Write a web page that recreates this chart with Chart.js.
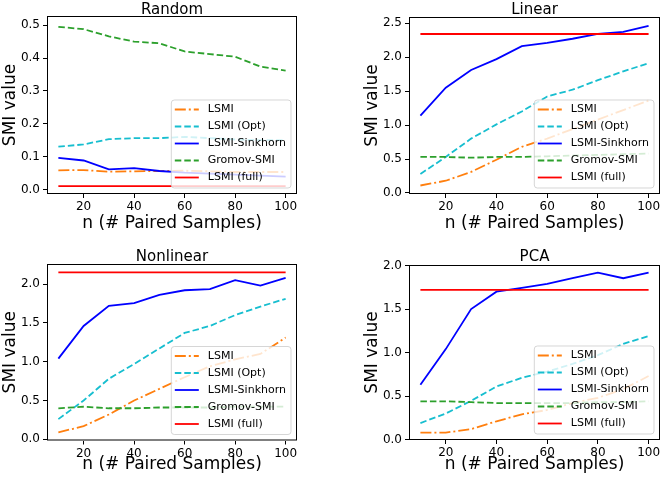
<!DOCTYPE html>
<html>
<head>
<meta charset="utf-8">
<script src="https://cdn.jsdelivr.net/npm/chart.js@4.4.1/dist/chart.umd.min.js"></script>
<style>
  html, body { margin: 0; padding: 0; background: #fff; }
  #figure { position: relative; width: 665px; height: 478px; }
  #figure canvas { position: absolute; }
</style>
</head>
<body>
<div id="figure">
  <canvas id="randomChart" width="332" height="238" style="left:0;top:0"></canvas>
  <canvas id="linearChart" width="333" height="238" style="left:332px;top:0"></canvas>
  <canvas id="nonlinearChart" width="332" height="240" style="left:0;top:238px"></canvas>
  <canvas id="pcaChart" width="333" height="240" style="left:332px;top:238px"></canvas>
</div>
<script>
// x values and legend names
const nSamples = [10, 20, 30, 40, 50, 60, 70, 80, 90, 100];
const seriesNames = ['LSMI', 'LSMI (Opt)', 'LSMI-Sinkhorn', 'Gromov-SMI', 'LSMI (full)'];
const xTicks = [20, 40, 60, 80, 100];
const xRange = [5.5, 104.5];

// Random
const randomLSMI = [0.058, 0.059, 0.054, 0.055, 0.056, 0.057, 0.055, 0.053, 0.053, 0.053];
const randomOpt = [0.130, 0.137, 0.153, 0.156, 0.156, 0.160, 0.156, 0.152, 0.150, 0.150];
const randomSinkhorn = [0.096, 0.088, 0.061, 0.065, 0.056, 0.051, 0.048, 0.045, 0.042, 0.039];
const randomGromov = [0.495, 0.488, 0.466, 0.450, 0.445, 0.420, 0.412, 0.404, 0.374, 0.362];
const randomFull = [0.010, 0.010, 0.010, 0.010, 0.010, 0.010, 0.010, 0.010, 0.010, 0.010];
const randomTicks = [0.0, 0.1, 0.2, 0.3, 0.4, 0.5];
const randomRange = [-0.014, 0.528];

// Linear
const linearLSMI = [0.11, 0.18, 0.31, 0.49, 0.68, 0.80, 0.94, 1.08, 1.22, 1.36];
const linearOpt = [0.28, 0.53, 0.80, 1.01, 1.20, 1.42, 1.52, 1.66, 1.79, 1.91];
const linearSinkhorn = [1.14, 1.55, 1.81, 1.97, 2.16, 2.21, 2.27, 2.34, 2.37, 2.46];
const linearGromov = [0.53, 0.53, 0.52, 0.53, 0.53, 0.54, 0.55, 0.56, 0.57, 0.58];
const linearFull = [2.34, 2.34, 2.34, 2.34, 2.34, 2.34, 2.34, 2.34, 2.34, 2.34];
const linearTicks = [0.0, 0.5, 1.0, 1.5, 2.0, 2.5];
const linearRange = [-0.015, 2.59];

// Nonlinear
const nonlinearLSMI = [0.09, 0.17, 0.32, 0.50, 0.65, 0.80, 0.94, 1.03, 1.10, 1.31];
const nonlinearOpt = [0.26, 0.50, 0.78, 0.97, 1.17, 1.37, 1.46, 1.60, 1.71, 1.81];
const nonlinearSinkhorn = [1.04, 1.46, 1.72, 1.755, 1.86, 1.92, 1.935, 2.05, 1.98, 2.08];
const nonlinearGromov = [0.40, 0.42, 0.40, 0.40, 0.41, 0.41, 0.41, 0.42, 0.42, 0.42];
const nonlinearFull = [2.15, 2.15, 2.15, 2.15, 2.15, 2.15, 2.15, 2.15, 2.15, 2.15];
const nonlinearTicks = [0.0, 0.5, 1.0, 1.5, 2.0];
const nonlinearRange = [-0.015, 2.258];

// PCA
const pcaLSMI = [0.08, 0.08, 0.12, 0.21, 0.29, 0.34, 0.42, 0.48, 0.58, 0.73];
const pcaOpt = [0.19, 0.30, 0.445, 0.61, 0.71, 0.78, 0.87, 0.97, 1.10, 1.19];
const pcaSinkhorn = [0.63, 1.04, 1.50, 1.70, 1.745, 1.79, 1.855, 1.92, 1.855, 1.92];
const pcaGromov = [0.44, 0.44, 0.43, 0.42, 0.42, 0.42, 0.42, 0.43, 0.43, 0.44];
const pcaFull = [1.72, 1.72, 1.72, 1.72, 1.72, 1.72, 1.72, 1.72, 1.72, 1.72];
const pcaTicks = [0.0, 0.5, 1.0, 1.5, 2.0];
const pcaRange = [-0.005, 2.007];

const seriesStyles = [
    { color: '#ff7f0e', dash: [11, 3, 2, 3] },
    { color: '#17becf', dash: [6.5, 3] },
    { color: '#0000ff', dash: [] },
    { color: '#2ca02c', dash: [6.5, 3] },
    { color: '#ff0000', dash: [] }
];

const panels = [
    { id: 'randomChart', title: 'Random', yTicks: randomTicks, yRange: randomRange,
      series: [randomLSMI, randomOpt, randomSinkhorn, randomGromov, randomFull],
      box: { l: 47, r: 297, t: 16, b: 194, titleTop: 5, yTitlePad: 0, xTitlePad: 4 } },
    { id: 'linearChart', title: 'Linear', yTicks: linearTicks, yRange: linearRange,
      series: [linearLSMI, linearOpt, linearSinkhorn, linearGromov, linearFull],
      box: { l: 77, r: 328, t: 17, b: 194, titleTop: 5, yTitlePad: 30, xTitlePad: 4 } },
    { id: 'nonlinearChart', title: 'Nonlinear', yTicks: nonlinearTicks, yRange: nonlinearRange,
      series: [nonlinearLSMI, nonlinearOpt, nonlinearSinkhorn, nonlinearGromov, nonlinearFull],
      box: { l: 47, r: 297, t: 26, b: 202.5, titleTop: 13.5, yTitlePad: 0, xTitlePad: 3.5 } },
    { id: 'pcaChart', title: 'PCA', yTicks: pcaTicks, yRange: pcaRange,
      series: [pcaLSMI, pcaOpt, pcaSinkhorn, pcaGromov, pcaFull],
      box: { l: 77, r: 328, t: 27, b: 202, titleTop: 14, yTitlePad: 30, xTitlePad: 3.5 } }
];

Chart.defaults.font.family = '"DejaVu Sans", sans-serif';
Chart.defaults.color = '#000';

// axes frame on all four sides + legend box in the lower right
const frameAndLegend = {
    id: 'frameAndLegend',
    afterDatasetsDraw(chart) {
        const { ctx, chartArea: a } = chart;
        ctx.save();
        ctx.strokeStyle = '#000';
        ctx.lineWidth = 1;
        ctx.setLineDash([]);
        ctx.strokeRect(a.left + 0.5, a.top + 0.5, a.right - a.left - 1, a.bottom - a.top - 1);

        const items = chart.data.datasets;
        ctx.font = '11px "DejaVu Sans"';
        const textW = Math.max(...items.map(d => ctx.measureText(d.label).width));
        const rowH = 17, lineLen = 24, pad = 3.5, gap = 9;
        const w = pad + lineLen + gap + textW + 5;
        const h = rowH * (items.length - 1) + 20;
        const x0 = a.right - 6 - w;
        const y0 = a.bottom - 6 - h;

        ctx.beginPath();
        ctx.roundRect(x0, y0, w, h, 3);
        ctx.fillStyle = 'rgba(255,255,255,0.8)';
        ctx.fill();
        ctx.strokeStyle = 'rgba(204,204,204,0.8)';
        ctx.stroke();

        items.forEach((d, i) => {
            const cy = y0 + 9.5 + i * rowH;
            ctx.beginPath();
            ctx.setLineDash(d.borderDash);
            ctx.strokeStyle = d.borderColor;
            ctx.lineWidth = d.borderWidth;
            ctx.moveTo(x0 + pad, cy);
            ctx.lineTo(x0 + pad + lineLen, cy);
            ctx.stroke();
            ctx.setLineDash([]);
            ctx.fillStyle = '#000';
            ctx.textBaseline = 'middle';
            ctx.textAlign = 'left';
            ctx.fillText(d.label, x0 + pad + lineLen + gap, cy);
        });
        ctx.restore();
    }
};

function renderPanel(panel) {
    const canvas = document.getElementById(panel.id);
    const box = panel.box;

    const datasets = panel.series.map((values, i) => ({
        label: seriesNames[i],
        data: values.map((v, j) => ({ x: nSamples[j], y: v })),
        borderColor: seriesStyles[i].color,
        borderDash: seriesStyles[i].dash,
        borderWidth: 1.8,
        pointRadius: 0,
        fill: false,
        tension: 0,
        order: seriesNames.length - i
    }));

    new Chart(canvas.getContext('2d'), {
        type: 'line',
        data: { datasets },
        options: {
            responsive: false,
            animation: false,
            layout: { padding: { left: 0, right: canvas.width - box.r, top: 0, bottom: 0 } },
            plugins: {
                legend: { display: false },
                tooltip: { enabled: false },
                title: {
                    display: true,
                    text: panel.title,
                    fullSize: false,
                    font: { size: 15, weight: 'normal', lineHeight: 0.7 },
                    padding: { top: box.titleTop, bottom: box.t - box.titleTop - 10.5 }
                }
            },
            scales: {
                x: {
                    type: 'linear',
                    min: xRange[0],
                    max: xRange[1],
                    afterBuildTicks: s => { s.ticks = xTicks.map(value => ({ value })); },
                    afterFit: s => { s.height = canvas.height - box.b; },
                    grid: { drawOnChartArea: false, tickLength: 4, tickColor: '#000' },
                    border: { display: false },
                    ticks: { font: { size: 12 }, padding: 2, maxRotation: 0, callback: v => String(v) },
                    title: { display: true, text: 'n (# Paired Samples)', font: { size: 17 }, padding: { top: 0, bottom: box.xTitlePad } }
                },
                y: {
                    min: panel.yRange[0],
                    max: panel.yRange[1],
                    afterBuildTicks: s => { s.ticks = panel.yTicks.map(value => ({ value })); },
                    afterFit: s => { s.width = box.l; },
                    grid: { drawOnChartArea: false, tickLength: 4, tickColor: '#000' },
                    border: { display: false },
                    ticks: { font: { size: 12 }, padding: 3, callback: v => v.toFixed(1) },
                    title: { display: true, text: 'SMI value', font: { size: 17 }, padding: { top: box.yTitlePad, bottom: 0 } }
                }
            }
        },
        plugins: [frameAndLegend]
    });
}

panels.forEach(renderPanel);
</script>
</body>
</html>
